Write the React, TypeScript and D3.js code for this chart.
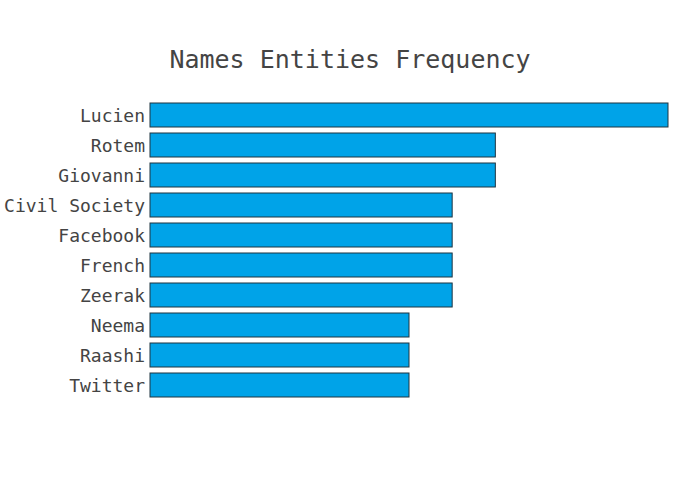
import * as d3 from "d3";

const names = ["Lucien", "Rotem", "Giovanni", "Civil Society", "Facebook", "French", "Zeerak", "Neema", "Raashi", "Twitter"];
const counts = [12, 8, 8, 7, 7, 7, 7, 6, 6, 6];

const W = 700;
const H = 500;
const FONT = "'DejaVu Sans Mono', monospace";

export default function App() {
  const x = d3.scaleLinear().domain([0, 12]).range([150, 668]);
  const y = d3.scaleBand<string>().domain(names).range([100, 400]).paddingInner(0.2).paddingOuter(0.1);

  return (
    <svg width={W} height={H} style={{ position: "absolute", left: 0, top: 0, background: "#fff" }}>
      <text x={350} y={61} textAnchor="middle" dominantBaseline="middle" fontFamily={FONT} fontSize={25} fill="#444">
        Names Entities Frequency
      </text>
      {names.map((n, i) => (
        <g key={n}>
          <rect
            x={x(0)}
            y={y(n)!}
            width={x(counts[i]) - x(0)}
            height={y.bandwidth()}
            fill="#00a3e8"
            stroke="#1f3440"
            strokeWidth={1}
          />
          <text
            x={145}
            y={y(n)! + y.bandwidth() / 2}
            textAnchor="end"
            dominantBaseline="central"
            fontFamily={FONT}
            fontSize={18}
            fill="#444"
          >
            {n}
          </text>
        </g>
      ))}
    </svg>
  );
}
